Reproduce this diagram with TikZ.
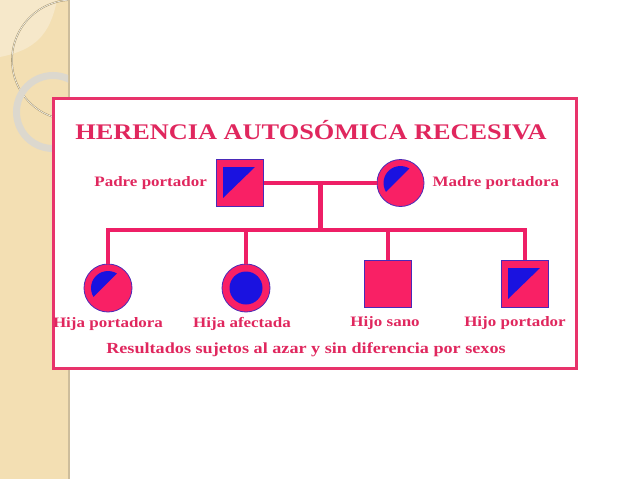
\documentclass[tikz,border=0pt]{standalone}
\usepackage{fontspec}
\setmainfont{Liberation Serif}[FakeStretch=1.18]
\usepackage{tikz}
\usetikzlibrary{positioning, calc}
\definecolor{rosa}{HTML}{F92065}
\definecolor{linea}{HTML}{EE1F66}
\definecolor{texto}{HTML}{E0275E}
\definecolor{marco}{HTML}{E8336B}
\definecolor{azul}{HTML}{1A12E0}
\definecolor{borde}{HTML}{4A2AB8}
\definecolor{crema}{HTML}{F3DFB3}
\definecolor{cremaclaro}{HTML}{F6E8CA}
\definecolor{cremaborde}{HTML}{CDBD9B}
\definecolor{arco}{HTML}{A89870}
\definecolor{anillo}{HTML}{DCD8CE}
\tikzset{
  varon/.style={rectangle, fill=rosa, draw=borde, line width=0.8pt, minimum size=47pt, inner sep=0pt},
  mujer/.style={circle, fill=rosa, draw=borde, line width=0.8pt, minimum size=48pt, inner sep=0pt},
  rama/.style={draw=linea, line width=4.5pt},
  etiqueta/.style={text=texto, font=\bfseries\fontsize{14.4}{16}\selectfont, inner sep=0pt}
}
% simbolos de portador
\newcommand{\portadorM}[1]{%
  \fill[azul] ($(#1.north west)+(7,8)$) -- ($(#1.north east)+(-9,8)$) -- ($(#1.south west)+(7,-9)$) -- cycle;}
\newcommand{\portadoraF}[1]{%
  \begin{scope}
    \clip (#1.center) circle (17pt);
    \fill[azul] ($(#1.center)+(18.2,-23.8)$) -- ($(#1.center)+(-23.8,18.2)$)
      -- ($(#1.center)+(-44.8,-2.8)$) -- ($(#1.center)+(-2.8,-44.8)$) -- cycle;
  \end{scope}}
\begin{document}
\begin{tikzpicture}[x=1pt, y=-1pt]
  \useasboundingbox (0,0) rectangle (638,479);
  % fondo de la diapositiva
  \fill[crema] (0,0) rectangle (70,479);
  \draw[cremaborde, line width=2pt] (69,0) -- (69,479);
  \begin{scope}
    \clip (0,0) rectangle (68,479);
    \fill[cremaclaro] (0,0) -- (57,0) .. controls (50,35) and (35,50) .. (0,57) -- cycle;
    \draw[arco, line width=1.6pt] (72,60) circle (60pt);
    \draw[white, line width=0.5pt] (72,60) circle (60pt);
    \draw[anillo, line width=7pt] (53,112) circle (36.5pt);
  \end{scope}
  % marco
  \draw[marco, line width=3pt, fill=white] (53,98) rectangle (576,368);
  \node[etiqueta, font=\bfseries\fontsize{22.3}{24}\selectfont] (titulo) at (311,130) {HERENCIA AUTOSÓMICA RECESIVA};
  % padres
  \node[varon] (padre) at (240,183) {};
  \node[mujer, minimum size=47pt] (madre) at (400.5,183) {};
  \node[etiqueta, left=9pt of padre] (lpadre) {Padre portador};
  \node[etiqueta, right=8pt of madre] (lmadre) {Madre portadora};
  % hijos
  \node[mujer] (hija1) at (108,288) {};
  \node[mujer] (hija2) at (246,288) {};
  \node[varon] (hijo1) at (388,284) {};
  \node[varon] (hijo2) at (525,284) {};
  \coordinate (pareja) at ($(padre.east)!0.5!(madre.west)$);
  \coordinate (fratria) at (pareja |- 0,230);
  % lineas
  \draw[rama] (padre) -- (madre);
  \draw[rama] (pareja) -- (fratria);
  \draw[rama] (hija1.north) |- (hijo2.north |- fratria) -- (hijo2.north);
  \draw[rama] (hija2.north) -- (hija2.north |- fratria);
  \draw[rama] (hijo1.north) -- (hijo1.north |- fratria);
  % relleno azul
  \portadorM{padre}
  \portadorM{hijo2}
  \portadoraF{madre}
  \portadoraF{hija1}
  \fill[azul] (hija2.center) circle (16.5pt);
  % rotulos
  \node[etiqueta, below=5pt of hija1] (lhija1) {Hija portadora};
  \node[etiqueta, below=5pt of hija2, xshift=-4pt] (lhija2) {Hija afectada};
  \node[etiqueta, below=8pt of hijo1, xshift=-3pt] (lhijo1) {Hijo sano};
  \node[etiqueta, below=8pt of hijo2, xshift=-10pt] (lhijo2) {Hijo portador};
  \node[etiqueta, font=\bfseries\fontsize{15.4}{17}\selectfont] (nota) at (306,350) {Resultados sujetos al azar y sin diferencia por sexos};
\end{tikzpicture}
\end{document}
